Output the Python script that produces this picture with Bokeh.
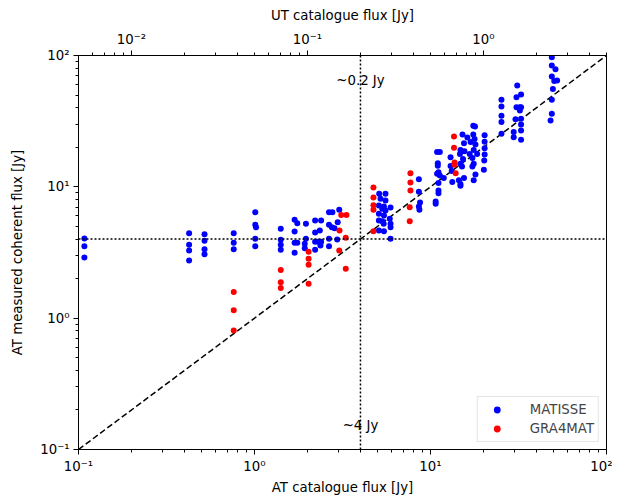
from bokeh.plotting import figure
from bokeh.models import (LogAxis, FixedTicker, Range1d, LogScale, Span, Label,
                          Legend, LegendItem, ColumnDataSource, CustomJSTickFormatter)
from bokeh.embed import file_html
from bokeh.resources import INLINE

# ---------------- data ----------------
matisse_x = [0.108, 0.108, 0.108,
             0.425, 0.425, 0.425, 0.425,
             0.52, 0.52, 0.52, 0.52,
             0.762, 0.762, 0.762,
             1.01, 1.01, 1.02, 1.01, 1.01,
             1.41, 1.41, 1.41, 1.41,
             1.69, 1.69, 1.69, 1.69, 1.75, 1.75,
             1.96, 1.96, 1.93, 1.93,
             2.21, 2.21, 2.21, 2.21, 2.39, 2.35, 2.30, 2.39, 2.37,
             2.65, 2.65, 2.65, 2.65, 2.77, 3.03, 2.75, 2.85, 2.97, 2.95,
             5.11, 5.55, 5.20, 5.55, 5.09, 5.44, 5.32, 5.55, 5.93, 5.09,
             5.44, 5.87, 5.09, 5.32, 5.42, 5.93, 5.93, 5.09, 5.44, 5.93,
             8.59, 8.59, 8.72, 8.59, 8.65,
             10.9, 11.3, 11.0, 11.0, 11.1, 10.9, 11.3, 11.1, 11.1, 11.1, 10.7, 10.7, 11.9,
             13.0, 13.2, 13.3, 13.0,
             15.2, 16.2, 17.5, 17.9, 17.5, 17.8, 15.5, 16.9, 18.0, 14.8, 15.6, 17.6,
             16.7, 14.7, 18.4, 15.3, 17.3, 17.6, 14.8, 15.1, 17.3, 18.0, 15.5, 14.8,
             17.6, 14.5, 14.8,
             20.3, 20.3, 20.3, 20.3, 20.2, 20.1,
             25.3, 25.3, 25.3, 25.3, 25.3,
             31.1, 30.8, 32.7, 30.8, 32.2, 32.7, 32.2, 30.4, 32.7, 32.7, 29.7, 29.7, 32.7, 32.7,
             48.9, 48.9, 51.3, 48.9, 52.4, 50.5, 49.6, 48.9, 48.9, 48.1]
matisse_y = [4.04, 3.53, 2.90,
             4.43, 3.62, 3.28, 2.75,
             4.36, 3.88, 3.35, 3.07,
             4.43, 3.75, 3.35,
             6.41, 5.14, 4.93, 4.02, 3.53,
             4.79, 3.95, 3.62, 3.32,
             5.61, 4.57, 3.75, 3.15, 5.28, 3.75,
             5.23, 4.02, 3.68, 3.41,
             5.55, 4.50, 3.81, 3.32, 5.55, 4.65, 3.81, 3.81, 3.57,
             6.41, 5.14, 4.02, 3.53, 6.41, 6.69, 4.93, 4.84, 5.38, 3.98,
             8.85, 8.85, 8.11, 7.87, 7.21, 7.07, 6.81, 6.61, 6.95, 6.24,
             6.05, 5.72, 5.55, 5.48, 5.23, 5.23, 4.93, 4.65, 4.59, 4.02,
             11.4, 9.17, 7.60, 7.07, 6.69,
             18.4, 18.4, 15.1, 14.5, 12.9, 12.6, 12.2, 10.7, 9.38, 8.95, 7.73, 7.43, 11.7,
             16.8, 13.2, 10.9, 14.4,
             25.0, 23.7, 29.2, 28.8, 25.0, 23.1, 21.5, 21.9, 21.0, 19.1, 18.7, 19.1,
             17.8, 17.8, 17.8, 16.3, 16.6, 15.0, 15.0, 14.3, 14.3, 12.4, 11.7, 10.5,
             11.2, 11.2, 10.2,
             24.7, 22.0, 19.7, 17.6, 15.9, 13.5,
             46.0, 40.9, 34.7, 31.1, 25.4,
             59.1, 48.1, 50.5, 40.4, 40.4, 40.4, 38.1, 32.7, 33.0, 29.8, 26.1, 23.9, 26.8, 22.8,
             97.0, 84.0, 78.7, 69.2, 64.5, 64.0, 55.7, 46.0, 36.0, 32.0]

gra4mat_x = [0.762, 0.762, 0.762,
             1.41, 1.41, 1.41,
             2.03, 2.03, 2.03, 2.03,
             3.11, 3.33, 3.04, 3.30, 3.03, 3.30,
             4.74, 4.74, 4.74, 4.74, 4.74,
             7.69, 7.69, 7.69, 7.62, 7.62,
             13.6, 13.6, 13.7, 13.7, 13.9]
gra4mat_y = [1.58, 1.15, 0.805,
             2.33, 1.88, 1.70,
             3.20, 2.83, 2.55, 1.83,
             6.09, 6.09, 4.65, 4.09, 3.28, 2.38,
             9.90, 8.30, 7.25, 6.69, 4.59,
             12.7, 10.8, 9.38, 7.00, 5.48,
             24.2, 19.8, 15.3, 14.7, 12.7]

one_to_one = [0.1, 100]
threshold_at = 4
at_to_ut = 1 / 20
x_limits = (0.1, 100)
y_limits = (0.1, 100)
at_major = [0.1, 1, 10, 100]
ut_major = [0.01, 0.1, 1]

FONT = "DejaVu Sans"
FS = "13.3px"

p = figure(frame_width=528, frame_height=394,
           x_axis_type="log", y_axis_type="log",
           x_range=x_limits, y_range=y_limits,
           output_backend="svg", toolbar_location=None,
           min_border_left=78, min_border_right=6,
           min_border_top=55, min_border_bottom=37,
           background_fill_color="white", border_fill_color="white")
p.xgrid.visible = False
p.ygrid.visible = False
p.outline_line_color = "black"
p.outline_line_width = 1
p.outline_line_alpha = 1

sup_code = """
const e = Math.round(Math.log10(tick));
const sup = {"-": "\\u207b", "0": "\\u2070", "1": "\\u00b9", "2": "\\u00b2", "3": "\\u00b3"};
return "10" + String(e).split("").map(c => sup[c]).join("");
"""

at_minor = [m * 10.0 ** e for e in (-1, 0, 1) for m in range(2, 10)]
ut_minor = [m * 10.0 ** e for e in (-3, -2, -1, 0) for m in range(2, 10)
            if 0.005 <= m * 10.0 ** e <= 5]


def style(ax, standoff):
    ax.axis_label_text_font = FONT
    ax.axis_label_text_font_size = FS
    ax.axis_label_text_font_style = "normal"
    ax.axis_label_text_color = "black"
    ax.axis_label_standoff = standoff
    ax.major_label_text_font = FONT
    ax.major_label_text_font_size = FS
    ax.major_label_text_color = "black"
    ax.major_label_standoff = 4
    ax.axis_line_color = "black"
    ax.major_tick_line_color = "black"
    ax.minor_tick_line_color = "black"
    ax.major_tick_out = 5
    ax.major_tick_in = 0
    ax.minor_tick_out = 3
    ax.minor_tick_in = 0
    ax.formatter = CustomJSTickFormatter(code=sup_code)


p.xaxis.ticker = FixedTicker(ticks=at_major, minor_ticks=at_minor)
p.yaxis.ticker = FixedTicker(ticks=at_major, minor_ticks=at_minor)
p.xaxis.axis_label = "AT catalogue flux [Jy]"
p.yaxis.axis_label = "AT measured coherent flux [Jy]"
style(p.xaxis[0], 3)
style(p.yaxis[0], 12)

p.extra_x_ranges = {"ut": Range1d(x_limits[0] * at_to_ut, x_limits[1] * at_to_ut)}
p.extra_x_scales = {"ut": LogScale()}
top = LogAxis(x_range_name="ut", axis_label="UT catalogue flux [Jy]",
              ticker=FixedTicker(ticks=ut_major, minor_ticks=ut_minor))
style(top, 6)
p.add_layout(top, "above")

# reference lines
p.line(one_to_one, one_to_one, line_color="black", line_dash="6 3", line_width=1.5)
p.add_layout(Span(location=threshold_at, dimension="width", line_color="black",
                  line_dash="2 2", line_width=1.5))
p.add_layout(Span(location=threshold_at, dimension="height", line_color="black",
                  line_dash="2 2", line_width=1.5))

src_m = ColumnDataSource(dict(x=matisse_x, y=matisse_y))
src_g = ColumnDataSource(dict(x=gra4mat_x, y=gra4mat_y))
rm = p.scatter("x", "y", source=src_m, size=6, color="#0000ff", line_color=None)
rg = p.scatter("x", "y", source=src_g, size=6, color="#ff0000", line_color=None)

p.add_layout(Label(x=threshold_at, y=64.5, text="~0.2 Jy", text_align="center",
                   text_baseline="middle", text_font=FONT, text_font_size=FS,
                   text_color="black"))
p.add_layout(Label(x=threshold_at, y=0.152, text="~4 Jy", text_align="center",
                   text_baseline="middle", text_font=FONT, text_font_size=FS,
                   text_color="black"))

legend = Legend(items=[LegendItem(label="MATISSE", renderers=[rm]),
                       LegendItem(label="GRA4MAT", renderers=[rg])],
                location="bottom_right", margin=7, padding=4,
                glyph_width=30, glyph_height=17, label_height=17,
                label_standoff=18, spacing=2,
                label_text_font=FONT, label_text_font_size=FS,
                border_line_color="#cccccc", border_line_width=1,
                background_fill_color="white", background_fill_alpha=0.8)
p.add_layout(legend)

open("out.html", "w").write(file_html(p, INLINE))
